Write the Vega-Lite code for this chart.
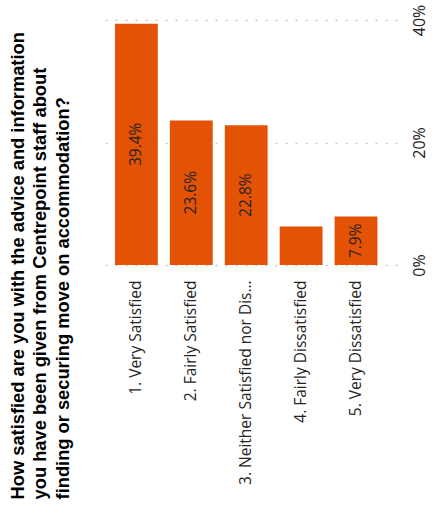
{
  "$schema": "https://vega.github.io/schema/vega-lite/v6.json",
  "width": 294,
  "height": 245,
  "autosize": {"type": "none"},
  "padding": {"left": 103, "top": 20, "right": 44, "bottom": 258},
  "background": "white",
  "title": {
    "text": ["How satisfied are you with the advice and information", "you have been given from Centrepoint staff about", "finding or securing move on accommodation?"],
    "orient": "left",
    "anchor": "start",
    "frame": "bounds",
    "font": "Liberation Sans",
    "fontWeight": "bold",
    "fontSize": 18.3,
    "lineHeight": 22.5,
    "color": "#000000",
    "offset": 30,
    "dx": -15
  },
  "data": {
    "values": [
      {"category": "1. Very Satisfied", "value": 0.394},
      {"category": "2. Fairly Satisfied", "value": 0.236},
      {"category": "3. Neither Satisfied nor Dissatisfied", "value": 0.228},
      {"category": "4. Fairly Dissatisfied", "value": 0.063},
      {"category": "5. Very Dissatisfied", "value": 0.079}
    ]
  },
  "encoding": {
    "x": {
      "field": "category",
      "type": "nominal",
      "sort": null,
      "scale": {"paddingInner": 0.22, "paddingOuter": 0.2875, "align": 0.38},
      "axis": {
        "title": null,
        "domain": false,
        "ticks": false,
        "tickSize": 0,
        "labelAngle": 270,
        "labelAlign": "right",
        "labelBaseline": "middle",
        "labelPadding": 15,
        "labelFont": "Open Sans",
        "labelFontSize": 15.5,
        "labelColor": "#252423",
        "labelLimit": 210
      }
    }
  },
  "layer": [
    {
      "mark": {"type": "bar", "color": "#E35205"},
      "encoding": {
        "y": {
          "field": "value",
          "type": "quantitative",
          "scale": {"domain": [0, 0.4], "nice": false},
          "axis": {
            "orient": "right",
            "title": null,
            "format": ".0%",
            "values": [0, 0.2, 0.4],
            "domain": false,
            "ticks": false,
            "tickSize": 0,
            "labelAngle": 270,
            "labelAlign": "center",
            "labelBaseline": "top",
            "labelPadding": 14,
            "labelFont": "Open Sans",
            "labelFontSize": 16,
            "labelColor": "#252423",
            "grid": true,
            "gridColor": "#C8C6C4",
            "gridDash": [2, 8],
            "gridWidth": 1.5
          }
        }
      }
    },
    {
      "transform": [{"filter": "datum.value >= 0.07"}],
      "mark": {"type": "text", "angle": 270, "align": "center", "baseline": "middle", "font": "Open Sans", "fontSize": 15.5, "color": "#252423"},
      "encoding": {
        "y": {"field": "value", "type": "quantitative", "scale": {"domain": [0, 0.8], "nice": false}, "axis": null},
        "text": {"field": "value", "type": "quantitative", "format": ".1%"}
      }
    }
  ],
  "resolve": {"scale": {"y": "independent"}},
  "config": {"view": {"stroke": null}}
}
